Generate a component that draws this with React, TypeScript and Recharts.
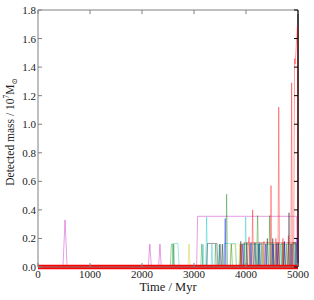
import React from 'react';
import { LineChart, Line, XAxis, YAxis, ReferenceLine } from 'recharts';

// ---- data (time in Myr, detected mass in 10^7 Msun) ----
const timeTicks = [0, 1000, 2000, 3000, 4000, 5000];
const massTicks = [0, 0.2, 0.4, 0.6, 0.8, 1.0, 1.2, 1.4, 1.6, 1.8];

const magentaTrack: [number, number][] = [
  [0, 0], [480, 0], [520, 0.33], [560, 0], [2120, 0], [2150, 0.16], [2180, 0],
  [2320, 0], [2345, 0.16], [2370, 0], [3050, 0], [3070, 0.355], [4975, 0.355], [4990, 0],
];
const greenTrack: [number, number][] = [
  [2545, 0], [2565, 0.16], [2590, 0.16], [2600, 0], [2610, 0.16], [2625, 0],
  [3130, 0], [3150, 0.16], [3170, 0], [3610, 0], [3628, 0.51], [3645, 0],
  [3700, 0], [3720, 0.16], [3740, 0], [4200, 0], [4224, 0.36], [4245, 0],
  [4440, 0], [4455, 0.36], [4470, 0], [4560, 0], [4580, 0.16], [4600, 0],
  [4760, 0], [4775, 0.16], [4790, 0],
];
const greenExtra: [number, number][] = [
  [3400, 0], [3415, 0.16], [3430, 0], [3950, 0], [3965, 0.17], [3980, 0],
  [4060, 0], [4075, 0.16], [4090, 0], [4290, 0], [4305, 0.17], [4320, 0],
  [4520, 0], [4535, 0.16], [4550, 0], [4680, 0], [4695, 0.17], [4710, 0],
  [4840, 0], [4855, 0.16], [4870, 0], [4930, 0], [4945, 0.17], [4960, 0],
];
const greenPlateau: [number, number][] = [
  [3890, 0], [3905, 0.16], [4980, 0.16], [4995, 0],
];
const cyanTrack: [number, number][] = [
  [2580, 0], [2600, 0.165], [2690, 0.165], [2715, 0], [3225, 0], [3243, 0.35], [3262, 0],
  [3330, 0], [3345, 0.16], [3360, 0], [3560, 0], [3580, 0.165], [3800, 0.165], [3820, 0],
  [3975, 0], [3994, 0.35], [4012, 0], [4100, 0], [4120, 0.16], [4140, 0],
  [4380, 0], [4395, 0.16], [4410, 0], [4650, 0], [4665, 0.16], [4680, 0],
  [4900, 0], [4915, 0.17], [4930, 0],
];
const cyanExtra: [number, number][] = [
  [3160, 0], [3175, 0.16], [3190, 0], [3470, 0], [3485, 0.16], [3500, 0],
  [4170, 0], [4185, 0.17], [4200, 0], [4240, 0], [4255, 0.16], [4270, 0],
  [4470, 0], [4485, 0.17], [4500, 0], [4610, 0], [4625, 0.16], [4640, 0],
  [4800, 0], [4815, 0.17], [4830, 0], [4960, 0], [4975, 0.16], [4990, 0],
];
const yellowTrack: [number, number][] = [
  [2885, 0], [2904, 0.16], [2925, 0], [3690, 0], [3710, 0.16], [3790, 0.16], [3810, 0],
  [3860, 0], [3880, 0.16], [3900, 0], [4300, 0], [4320, 0.15], [4340, 0],
  [4700, 0], [4715, 0.16], [4730, 0],
];
const blackTrack: [number, number][] = [
  [3240, 0], [3260, 0.165], [3440, 0.165], [3460, 0], [3480, 0], [3500, 0.16], [3520, 0],
  [3880, 0], [3900, 0.18], [3920, 0], [4150, 0], [4170, 0.17], [4190, 0],
  [4390, 0], [4410, 0.2], [4430, 0], [4600, 0], [4620, 0.17], [4640, 0],
  [4810, 0], [4827, 0.38], [4845, 0], [4880, 0], [4900, 0.17], [4960, 0.17], [4975, 0],
];
const blackExtra: [number, number][] = [
  [3530, 0], [3545, 0.16], [3560, 0], [4000, 0], [4015, 0.17], [4030, 0],
  [4220, 0], [4235, 0.16], [4250, 0], [4500, 0], [4515, 0.2], [4530, 0],
  [4720, 0], [4735, 0.17], [4750, 0],
];
const blueTrack: [number, number][] = [
  [3585, 0], [3600, 0.34], [3615, 0], [4250, 0], [4265, 0.17], [4280, 0],
  [4500, 0], [4520, 0.16], [4540, 0], [4720, 0], [4740, 0.18], [4760, 0],
  [4950, 0], [4970, 0.2], [4990, 0.19], [5000, 0],
];
const blueExtra: [number, number][] = [
  [3920, 0], [3935, 0.16], [3950, 0], [4080, 0], [4095, 0.17], [4110, 0],
  [4360, 0], [4375, 0.16], [4390, 0], [4580, 0], [4595, 0.17], [4610, 0],
  [4860, 0], [4875, 0.16], [4890, 0],
];
const redTrack: [number, number][] = [
  [3890, 0], [3905, 0.16], [3920, 0], [4030, 0], [4045, 0.17], [4060, 0.21], [4075, 0],
  [4110, 0], [4128, 0.40], [4145, 0], [4330, 0], [4345, 0.18], [4360, 0],
  [4465, 0], [4481, 0.57], [4497, 0], [4560, 0], [4575, 0.2], [4590, 0],
  [4615, 0], [4630, 1.12], [4645, 0], [4700, 0], [4710, 0.2], [4720, 0],
  [4800, 0], [4815, 0.22], [4830, 0], [4862, 0], [4878, 1.29], [4893, 0],
  [4915, 0], [4935, 1.46], [4945, 1.42], [4990, 1.69], [5000, 0],
];
const redPlateau: [number, number][] = [
  [3950, 0], [3965, 0.17], [4980, 0.17], [4995, 0],
];
const redBaseline: [number, number][] = [[0, 0], [5000, 0]];

const toRows = (track: [number, number][]) => track.map(([t, m]) => ({ t, m }));

const series = [
  { name: 'magenta', data: toRows(magentaTrack), color: '#bf00bf' },
  { name: 'greenPlateau', data: toRows(greenPlateau), color: '#008000' },
  { name: 'redPlateau', data: toRows(redPlateau), color: '#ff0000' },
  { name: 'cyan', data: toRows(cyanTrack), color: '#00bfbf' },
  { name: 'cyanExtra', data: toRows(cyanExtra), color: '#00bfbf' },
  { name: 'yellow', data: toRows(yellowTrack), color: '#bfbf00' },
  { name: 'black', data: toRows(blackTrack), color: '#000000' },
  { name: 'blackExtra', data: toRows(blackExtra), color: '#000000' },
  { name: 'green', data: toRows(greenTrack), color: '#008000' },
  { name: 'greenExtra', data: toRows(greenExtra), color: '#008000' },
  { name: 'blue', data: toRows(blueTrack), color: '#0000ff' },
  { name: 'blueExtra', data: toRows(blueExtra), color: '#0000ff' },
  { name: 'red', data: toRows(redTrack), color: '#ff0000' },
];

// ---- layout ----
const W = 314;
const H = 300;
const PLOT_LEFT = 38;
const PLOT_RIGHT = 298;
const PLOT_TOP = 10;
const PLOT_BOTTOM = 267;
const FONT = '"Liberation Serif", "DejaVu Serif", serif';

const XTick = (props: any) => {
  const { x, payload } = props;
  return (
    <g>
      <line x1={x} x2={x} y1={PLOT_BOTTOM} y2={PLOT_BOTTOM - 4} stroke="#808080" />
      <line x1={x} x2={x} y1={PLOT_TOP} y2={PLOT_TOP + 4} stroke="#808080" />
      <text x={x} y={PLOT_BOTTOM + 11} textAnchor="middle" fontSize={11} fontFamily={FONT} fill="#222">
        {payload.value}
      </text>
    </g>
  );
};

const YTick = (props: any) => {
  const { y, payload } = props;
  return (
    <g>
      <line x1={PLOT_LEFT} x2={PLOT_LEFT + 4} y1={y} y2={y} stroke="#808080" />
      <line x1={PLOT_RIGHT} x2={PLOT_RIGHT - 4} y1={y} y2={y} stroke="#000" />
      <text x={PLOT_LEFT - 2} y={y + 4} textAnchor="end" fontSize={11} fontFamily={FONT} fill="#222">
        {Number(payload.value).toFixed(1)}
      </text>
    </g>
  );
};

const YLabel = () => (
  <text
    transform="rotate(-90)"
    x={-132}
    y={14}
    textAnchor="middle"
    fontSize={11.5}
    fontFamily={FONT}
    fill="#222"
  >
    Detected mass / 10
    <tspan dy={-5} fontSize={7.5}>7</tspan>
    <tspan dy={5}>M</tspan>
    <tspan dy={3} fontSize={7.5}>⊙</tspan>
  </text>
);

const XLabel = () => (
  <text
    x={(PLOT_LEFT + PLOT_RIGHT) / 2}
    y={291}
    textAnchor="middle"
    fontSize={12.5}
    fontFamily={FONT}
    fontWeight="normal"
    fill="#222"
  >
    Time / Myr
  </text>
);

export default function App() {
  return (
    <div style={{ position: 'absolute', left: 0, top: 0, width: W, height: H, background: '#fff' }}>
      <LineChart
        width={W}
        height={H}
        margin={{ top: PLOT_TOP, right: W - PLOT_RIGHT, bottom: 0, left: 0 }}
      >
        <XAxis
          type="number"
          dataKey="t"
          domain={[0, 5000]}
          ticks={timeTicks}
          interval={0}
          height={H - PLOT_BOTTOM}
          tickLine={false}
          tickSize={0}
          tickMargin={0}
          tick={<XTick />}
          axisLine={{ stroke: '#808080', strokeWidth: 1 }}
          label={{ content: () => <XLabel /> }}
        />
        <YAxis
          type="number"
          dataKey="m"
          domain={[0, 1.8]}
          ticks={massTicks}
          interval={0}
          width={PLOT_LEFT}
          tickLine={false}
          tickSize={0}
          tickMargin={0}
          tick={<YTick />}
          axisLine={{ stroke: '#808080', strokeWidth: 1 }}
          label={{ content: () => <YLabel /> }}
        />
        <ReferenceLine y={1.8} stroke="#808080" strokeWidth={1} />
        <ReferenceLine x={5000} stroke="#000" strokeWidth={1.5} />
        {series.map((s) => (
          <Line
            key={s.name}
            data={s.data}
            dataKey="m"
            type="linear"
            stroke={s.color}
            strokeOpacity={0.38}
            strokeWidth={1}
            dot={false}
            activeDot={false}
            isAnimationActive={false}
          />
        ))}
        <Line
          data={toRows(redBaseline)}
          dataKey="m"
          type="linear"
          stroke="#ff0000"
          strokeWidth={4.5}
          dot={false}
          activeDot={false}
          isAnimationActive={false}
        />
      </LineChart>
    </div>
  );
}
